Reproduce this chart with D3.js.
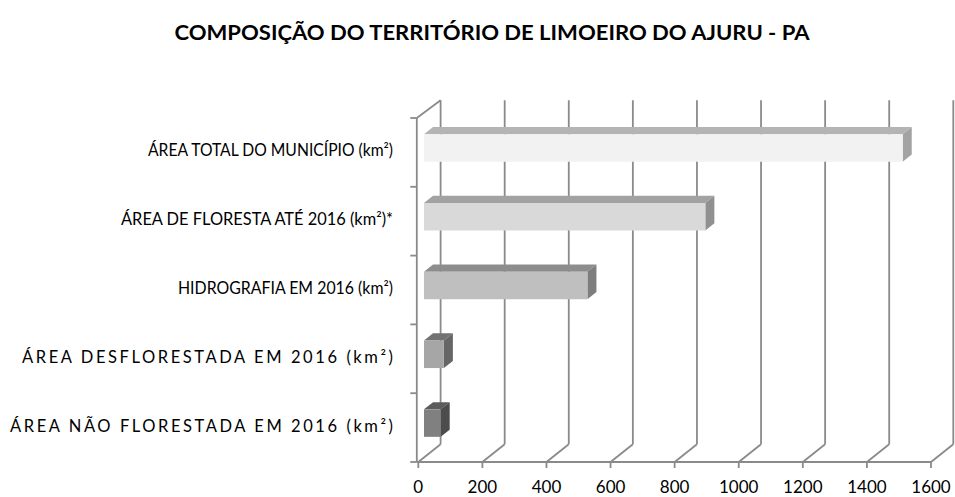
<!DOCTYPE html>
<html>
<head>
<meta charset="utf-8">
<script src="https://cdn.jsdelivr.net/npm/d3@7/dist/d3.min.js"></script>
<style>
  html, body { margin: 0; padding: 0; background: #fff; }
  svg { display: block; }
</style>
</head>
<body>
<svg id="chart" width="955" height="497"></svg>
<script>
// ---- data ----
const title = "COMPOSIÇÃO DO TERRITÓRIO DE LIMOEIRO DO AJURU - PA";
const categories = [
  "ÁREA TOTAL DO MUNICÍPIO (km²)",
  "ÁREA DE FLORESTA ATÉ 2016 (km²)*",
  "HIDROGRAFIA EM 2016 (km²)",
  "ÁREA DESFLORESTADA EM 2016 (km²)",
  "ÁREA NÃO FLORESTADA EM 2016 (km²)"
];
const values = [1494, 878, 510, 62, 52];
const tickValues = [0, 200, 400, 600, 800, 1000, 1200, 1400, 1600];

// ---- styles ----
const frontColors = ["#f2f2f2", "#d9d9d9", "#bfbfbf", "#a6a6a6", "#808080"];
const topColors   = ["#b4b4b4", "#a2a2a2", "#8d8d8d", "#727272", "#5c5c5c"];
const sideColors  = ["#a3a3a3", "#909090", "#7e7e7e", "#666666", "#4c4c4c"];
const labelWidths = [245, 272, 215, 371, 383];   // rendered label widths (layout)
const gridColor = "#8a8a8a";
const font = "Lato, 'Open Sans', sans-serif";

const svg = d3.select("#chart");

// front plane scales
const x = d3.scaleLinear().domain([0, 1600]).range([418.3, 931]);
const y = d3.scaleBand().domain(categories).range([118, 462]).paddingInner(0.6).paddingOuter(0.3);
const yTop = 118, yBottom = 462;
const DX = 22.3, DY = 17.7;   // depth offset of the 3D box
const P = (v, yy, d) => [x(v) + d * DX, yy - d * DY];

const g = svg.append("g");

// back wall gridlines
g.selectAll("line.grid").data(tickValues).join("line")
  .attr("class", "grid")
  .attr("x1", d => P(d, yBottom, 1)[0]).attr("y1", d => P(d, yBottom, 1)[1])
  .attr("x2", d => P(d, yTop, 1)[0]).attr("y2", d => P(d, yTop, 1)[1])
  .attr("stroke", gridColor).attr("stroke-width", 1.8);

// floor diagonals
g.selectAll("line.diag").data(tickValues).join("line")
  .attr("class", "diag")
  .attr("x1", d => P(d, yBottom, 0)[0]).attr("y1", d => P(d, yBottom, 0)[1])
  .attr("x2", d => P(d, yBottom, 1)[0]).attr("y2", d => P(d, yBottom, 1)[1])
  .attr("stroke", gridColor).attr("stroke-width", 1.8);

// left wall: top diagonal and front vertical line
g.append("line")
  .attr("x1", P(0, yTop, 0)[0] - 1.5).attr("y1", P(0, yTop, 0)[1])
  .attr("x2", P(0, yTop, 1)[0]).attr("y2", P(0, yTop, 1)[1])
  .attr("stroke", gridColor).attr("stroke-width", 1.8);
g.append("line")
  .attr("x1", x(0) - 1.5).attr("y1", yTop)
  .attr("x2", x(0) - 1.5).attr("y2", yBottom)
  .attr("stroke", gridColor).attr("stroke-width", 1.8);

// front axis line
g.append("line")
  .attr("x1", x(0) - 1.5).attr("y1", yBottom)
  .attr("x2", x(1600)).attr("y2", yBottom)
  .attr("stroke", gridColor).attr("stroke-width", 1.8);

// x ticks
g.selectAll("line.xtick").data(tickValues).join("line")
  .attr("class", "xtick")
  .attr("x1", d => x(d)).attr("y1", yBottom)
  .attr("x2", d => x(d)).attr("y2", yBottom + 6)
  .attr("stroke", gridColor).attr("stroke-width", 1.8);

// y ticks at category boundaries
const bounds = categories.map(c => y(c) - y.step() * y.paddingInner() / 2).concat([yBottom]);
g.selectAll("line.ytick").data(bounds).join("line")
  .attr("class", "ytick")
  .attr("x1", x(0) - 8).attr("y1", d => d)
  .attr("x2", x(0) - 1.5).attr("y2", d => d)
  .attr("stroke", gridColor).attr("stroke-width", 1.8);

// bars
const d0 = 0.255, d1 = 0.66;
const bars = g.selectAll("g.bar").data(categories.map((c, i) => ({c, v: values[i], i}))).join("g").attr("class", "bar");

bars.append("polygon") // top face
  .attr("points", d => {
    const t = y(d.c);
    return [P(0, t, d0), P(d.v, t, d0), P(d.v, t, d1), P(0, t, d1)].map(p => p.join(",")).join(" ");
  })
  .attr("fill", d => topColors[d.i]);

bars.append("polygon") // side face
  .attr("points", d => {
    const t = y(d.c), b = y(d.c) + y.bandwidth();
    return [P(d.v, t, d0), P(d.v, t, d1), P(d.v, b, d1), P(d.v, b, d0)].map(p => p.join(",")).join(" ");
  })
  .attr("fill", d => sideColors[d.i]);

bars.append("polygon") // front face
  .attr("points", d => {
    const t = y(d.c), b = y(d.c) + y.bandwidth();
    return [P(0, t, d0), P(d.v, t, d0), P(d.v, b, d0), P(0, b, d0)].map(p => p.join(",")).join(" ");
  })
  .attr("fill", d => frontColors[d.i]);

// category labels
const labels = g.selectAll("text.cat").data(categories).join("text")
  .attr("class", "cat")
  .attr("x", 393)
  .attr("y", d => y(d) + y.bandwidth() / 2 - 2)
  .attr("text-anchor", "end")
  .attr("dominant-baseline", "central")
  .attr("font-family", font)
  .attr("font-size", 16.5)
  .attr("fill", "#000")
  .text(d => d);

labels.each(function(d, i) {
  const w = this.getComputedTextLength();
  const target = labelWidths[i];
  d3.select(this)
    .attr("textLength", target)
    .attr("lengthAdjust", target > w ? "spacing" : "spacingAndGlyphs");
});

// x tick labels
g.selectAll("text.xl").data(tickValues).join("text")
  .attr("class", "xl")
  .attr("x", d => x(d))
  .attr("y", 493)
  .attr("text-anchor", "middle")
  .attr("font-family", font)
  .attr("font-size", 17)
  .attr("fill", "#000")
  .text(d => d);

// title
svg.append("text")
  .attr("x", 492).attr("y", 40)
  .attr("text-anchor", "middle")
  .attr("font-family", font)
  .attr("font-weight", "bold")
  .attr("font-size", 20)
  .attr("fill", "#000")
  .attr("textLength", 635)
  .attr("lengthAdjust", "spacingAndGlyphs")
  .text(title);
</script>
</body>
</html>
